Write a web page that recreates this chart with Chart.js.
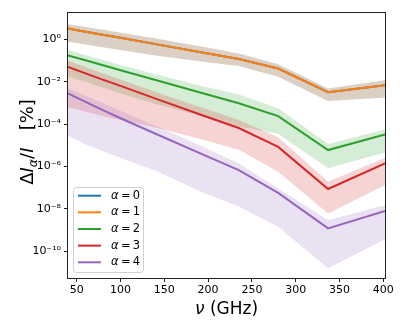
<!DOCTYPE html>
<html>
<head>
<meta charset="utf-8">
<script src="https://cdn.jsdelivr.net/npm/chart.js@4"></script>
<style>
  html, body { margin: 0; padding: 0; background: #fff; }
</style>
</head>
<body>
<canvas id="grafico" width="407" height="326"></canvas>
<script>
// frecuencias de las bandas (GHz)
const freqs = [40, 60, 78, 100, 140, 195, 235, 280, 337, 402];

// valores en log10(ΔI_α/I [%]): linea, borde superior, borde inferior
const a1Mid = [0.52, 0.37, 0.24, 0.08, -0.22, -0.63, -0.92, -1.37, -2.49, -2.16];
const a1Up  = [0.72, 0.59, 0.47, 0.32, 0.05, -0.36, -0.66, -1.17, -2.31, -1.92];
const a1Low = [-0.11, -0.24, -0.35, -0.5, -0.76, -1.05, -1.25, -1.76, -2.9, -2.74];

// alpha = 0 coincide con alpha = 1 (queda tapada por la naranja)
const a0Mid = a1Mid;
const a0Up  = a1Up;
const a0Low = a1Low;

const a2Mid = [-0.75, -0.98, -1.19, -1.45, -1.91, -2.55, -3.01, -3.62, -5.22, -4.48];
const a2Up  = [-0.5, -0.73, -0.94, -1.2, -1.64, -2.22, -2.6, -3.25, -4.94, -4.25];
const a2Low = [-1.76, -2.0, -2.25, -2.55, -3.05, -3.65, -4.1, -4.45, -6.08, -5.33];

const a3Mid = [-1.3, -1.6, -1.87, -2.19, -2.79, -3.6, -4.18, -5.07, -7.06, -5.85];
const a3Up  = [-1.0, -1.3, -1.57, -1.89, -2.48, -3.25, -3.8, -4.62, -6.72, -5.58];
const a3Low = [-3.2, -3.4, -3.6, -3.8, -4.15, -4.75, -5.2, -6.25, -8.21, -6.87];

const a4Mid = [-2.55, -2.95, -3.3, -3.72, -4.45, -5.45, -6.17, -7.24, -8.92, -8.09];
const a4Up  = [-2.3, -2.65, -2.97, -3.37, -4.07, -5.08, -5.85, -7.03, -8.52, -7.82];
const a4Low = [-4.55, -4.95, -5.25, -5.6, -6.2, -7.25, -7.89, -8.84, -10.8, -9.43];

const xTicks = [50, 100, 150, 200, 250, 300, 350, 400];
const yTickExps = [0, -2, -4, -6, -8, -10];
const legendLabels = ['0', '1', '2', '3', '4'];

const series = [
  { color: '#1f77b4', band: 'rgba(31,119,180,0.2)',  mid: a0Mid, up: a0Up, low: a0Low },
  { color: '#ff7f0e', band: 'rgba(255,127,14,0.2)',  mid: a1Mid, up: a1Up, low: a1Low },
  { color: '#2ca02c', band: 'rgba(44,160,44,0.2)',   mid: a2Mid, up: a2Up, low: a2Low },
  { color: '#d62728', band: 'rgba(214,39,40,0.2)',   mid: a3Mid, up: a3Up, low: a3Low },
  { color: '#9467bd', band: 'rgba(148,103,189,0.2)', mid: a4Mid, up: a4Up, low: a4Low }
];

function puntos(exps) {
  return freqs.map((f, i) => ({ x: f, y: Math.pow(10, exps[i]) }));
}

const datasets = [];
series.forEach((s, k) => {
  datasets.push({ data: puntos(s.up), borderColor: 'transparent', borderWidth: 0, pointRadius: 0, fill: '+1', backgroundColor: s.band, order: 20 - k });
  datasets.push({ data: puntos(s.low), borderColor: 'transparent', borderWidth: 0, pointRadius: 0, fill: false, order: 20 - k });
  datasets.push({ data: puntos(s.mid), borderColor: s.color, borderWidth: 2, pointRadius: 0, fill: false, order: 10 - k });
});

const SUP = { '0': '⁰', '1': '¹', '2': '²', '3': '³', '4': '⁴', '5': '⁵', '6': '⁶', '7': '⁷', '8': '⁸', '9': '⁹', '-': '⁻' };
function potencia(v) {
  const e = String(Math.round(Math.log10(v)));
  return '10' + e.split('').map(c => SUP[c]).join('');
}

// titulos, marco y leyenda dibujados a mano
const extras = {
  id: 'extras',
  afterDraw(chart) {
    const ctx = chart.ctx;
    const a = chart.chartArea;
    ctx.save();

    // marco completo
    ctx.strokeStyle = '#222';
    ctx.lineWidth = 1;
    ctx.strokeRect(Math.round(a.left) - 0.5, Math.round(a.top) - 0.5, Math.round(a.right - a.left) + 1, Math.round(a.bottom - a.top) + 1);

    // titulo eje x
    ctx.fillStyle = '#000';
    ctx.textBaseline = 'alphabetic';
    const xParts = [['italic 17px "DejaVu Sans"', 'ν'], ['17px "DejaVu Sans"', ' (GHz)']];
    let w = 0;
    xParts.forEach(p => { ctx.font = p[0]; w += ctx.measureText(p[1]).width; });
    let x = (a.left + a.right) / 2 - w / 2;
    xParts.forEach(p => { ctx.font = p[0]; ctx.fillText(p[1], x, 314); x += ctx.measureText(p[1]).width; });

    // titulo eje y
    const yParts = [
      ['18px "DejaVu Sans"', 'Δ', 0],
      ['italic 18px "DejaVu Sans"', 'I', 0],
      ['italic 12.5px "DejaVu Sans"', 'α', 4],
      ['18px "DejaVu Sans"', '/', 0],
      ['italic 18px "DejaVu Sans"', 'I', 0],
      ['18px "DejaVu Sans"', '   [%]', 0]
    ];
    w = 0;
    yParts.forEach(p => { ctx.font = p[0]; w += ctx.measureText(p[1]).width; });
    ctx.translate(33, 142);
    ctx.rotate(-Math.PI / 2);
    x = -w / 2;
    yParts.forEach(p => { ctx.font = p[0]; ctx.fillText(p[1], x, p[2]); x += ctx.measureText(p[1]).width; });
    ctx.setTransform(1, 0, 0, 1, 0, 0);

    // leyenda
    const bx = 73.5, by = 187.5, bw = 70, bh = 85, r = 3;
    ctx.beginPath();
    ctx.moveTo(bx + r, by);
    ctx.arcTo(bx + bw, by, bx + bw, by + bh, r);
    ctx.arcTo(bx + bw, by + bh, bx, by + bh, r);
    ctx.arcTo(bx, by + bh, bx, by, r);
    ctx.arcTo(bx, by, bx + bw, by, r);
    ctx.closePath();
    ctx.fillStyle = 'rgba(255,255,255,0.8)';
    ctx.fill();
    ctx.strokeStyle = '#d0d0d0';
    ctx.stroke();

    series.forEach((s, k) => {
      const yy = 195.7 + k * 16.65;
      ctx.strokeStyle = s.color;
      ctx.lineWidth = 2;
      ctx.beginPath();
      ctx.moveTo(78, yy);
      ctx.lineTo(101, yy);
      ctx.stroke();
      ctx.fillStyle = '#000';
      ctx.textBaseline = 'middle';
      ctx.font = 'italic 11.5px "DejaVu Sans"';
      ctx.fillText('α', 111, yy);
      const aw = ctx.measureText('α').width;
      ctx.font = '11.5px "DejaVu Sans"';
      ctx.fillText('\u2009=\u2009' + legendLabels[k], 111 + aw, yy);
    });

    ctx.restore();
  }
};

new Chart(document.getElementById('grafico'), {
  type: 'line',
  data: { datasets: datasets },
  options: {
    responsive: false,
    animation: false,
    devicePixelRatio: 1,
    layout: { padding: { left: 0, top: 13, right: 22, bottom: 0 } },
    elements: { line: { tension: 0 } },
    plugins: {
      legend: { display: false },
      tooltip: { enabled: false },
      filler: { drawTime: 'beforeDatasetsDraw' }
    },
    scales: {
      x: {
        type: 'linear',
        min: 40,
        max: 402,
        afterBuildTicks: s => { s.ticks = xTicks.map(v => ({ value: v })); },
        afterFit: s => { s.height = 48; },
        grid: { display: true, drawOnChartArea: false, drawTicks: true, tickLength: 4, color: '#222' },
        border: { display: false },
        ticks: { color: '#000', font: { family: 'DejaVu Sans', size: 11 }, padding: 2, maxRotation: 0, autoSkip: false }
      },
      y: {
        type: 'logarithmic',
        min: Math.pow(10, -11.26),
        max: Math.pow(10, 1.25),
        afterBuildTicks: s => { s.ticks = yTickExps.map(e => ({ value: Math.pow(10, e) })); },
        afterFit: s => { s.width = 68; },
        grid: { display: true, drawOnChartArea: false, drawTicks: true, tickLength: 4, color: '#222' },
        border: { display: false },
        ticks: { color: '#000', font: { family: 'DejaVu Sans', size: 11 }, padding: 3, autoSkip: false, callback: v => potencia(v) }
      }
    }
  },
  plugins: [extras]
});
</script>
</body>
</html>
